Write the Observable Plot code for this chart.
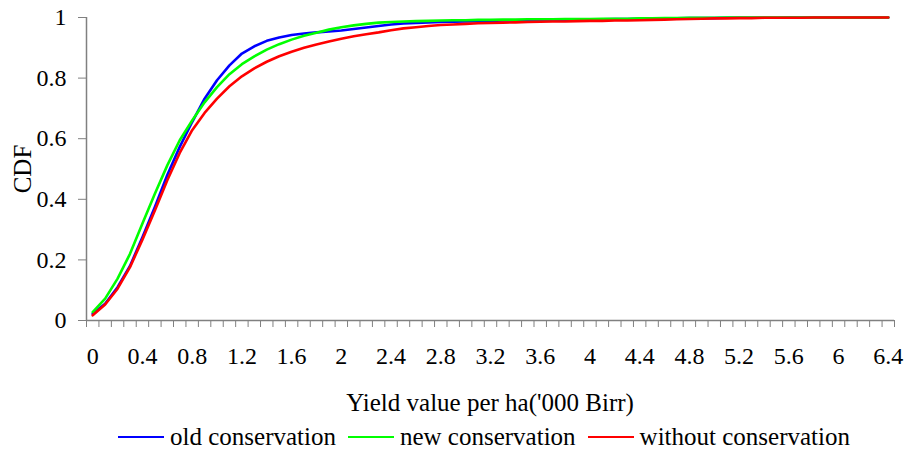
<!DOCTYPE html>
<html>
<head>
<meta charset="utf-8">
<script src="https://cdn.jsdelivr.net/npm/d3@7"></script>
<script src="https://cdn.jsdelivr.net/npm/@observablehq/plot@0.6"></script>
<style>
  body { margin: 0; background: #fff; }
  #wrap, #wrap * { font-family: "Liberation Serif", "Times New Roman", serif !important; }
  #wrap { width: 909px; color: #000; }
  #chart svg text { font-family: "Liberation Serif", "Times New Roman", serif !important; font-variant: normal !important; }
  #xtitle { margin-top: 13px; height: 30px; line-height: 30px; font-size: 25px; text-align: center; padding-left: 86px; width: 808px; }
  #legend { margin-top: 4px; height: 30px; line-height: 30px; font-size: 25px; display: flex; justify-content: center; padding-left: 80px; width: 808px; }
  .item { display: flex; align-items: center; margin-right: 12px; white-space: nowrap; }
  .item:last-child { margin-right: 0; }
  .sw { display: inline-block; width: 46px; height: 0; border-top: 2.5px solid; margin-right: 6px; }
</style>
</head>
<body>
<div id="wrap">
  <div id="chart"></div>
  <div id="xtitle"></div>
  <div id="legend"></div>
</div>
<script>
const categories = [0,0.1,0.2,0.3,0.4,0.5,0.6,0.7,0.8,0.9,1.0,1.1,1.2,1.3,1.4,1.5,1.6,1.7,1.8,1.9,2.0,2.1,2.2,2.3,2.4,2.5,2.6,2.7,2.8,2.9,3.0,3.1,3.2,3.3,3.4,3.5,3.6,3.7,3.8,3.9,4.0,4.1,4.2,4.3,4.4,4.5,4.6,4.7,4.8,4.9,5.0,5.1,5.2,5.3,5.4,5.5,5.6,5.7,5.8,5.9,6.0,6.1,6.2,6.3,6.4];
const xTickLabels = [0,0.4,0.8,1.2,1.6,2,2.4,2.8,3.2,3.6,4,4.4,4.8,5.2,5.6,6,6.4];
const yTickLabels = [0,0.2,0.4,0.6,0.8,1];

const oldConservation = [0.022,0.055,0.11,0.18,0.275,0.375,0.48,0.573,0.655,0.732,0.793,0.842,0.881,0.905,0.923,0.934,0.942,0.947,0.951,0.954,0.957,0.962,0.967,0.972,0.977,0.980,0.982,0.984,0.985,0.986,0.987,0.988,0.989,0.990,0.990,0.991,0.992,0.992,0.993,0.993,0.994,0.994,0.995,0.995,0.996,0.996,0.997,0.997,0.998,0.998,0.998,0.999,0.999,0.999,0.999,0.999,1,1,1,1,1,1,1,1,1];
const newConservation = [0.028,0.072,0.138,0.22,0.32,0.418,0.512,0.595,0.66,0.72,0.77,0.813,0.846,0.872,0.894,0.912,0.927,0.94,0.95,0.96,0.968,0.974,0.979,0.983,0.985,0.987,0.988,0.989,0.990,0.991,0.991,0.992,0.992,0.993,0.993,0.994,0.994,0.994,0.995,0.995,0.995,0.996,0.996,0.996,0.997,0.997,0.998,0.998,0.999,0.999,0.999,1,1,1,1,1,1,1,1,1,1,1,1,1,1];
const withoutConservation = [0.017,0.053,0.105,0.176,0.267,0.363,0.463,0.553,0.628,0.685,0.732,0.773,0.806,0.832,0.854,0.872,0.887,0.9,0.911,0.921,0.93,0.938,0.945,0.951,0.958,0.964,0.968,0.972,0.975,0.977,0.979,0.981,0.982,0.983,0.984,0.985,0.986,0.987,0.987,0.988,0.989,0.989,0.990,0.990,0.991,0.992,0.993,0.994,0.995,0.996,0.997,0.997,0.998,0.998,0.999,0.999,0.999,0.999,1,1,1,1,1,1,1];

const seriesNames = ["old conservation", "new conservation", "without conservation"];
const seriesColors = ["#0000ff", "#00ff00", "#ff0000"];
const seriesValues = [oldConservation, newConservation, withoutConservation];

const rows = [];
seriesNames.forEach((name, s) => {
  categories.forEach((c, i) => rows.push({series: name, x: c, y: seriesValues[s][i]}));
});

const half = 0.05;
const boundaries = categories.map(c => c - half).concat([categories[categories.length - 1] + half]);
const axisColor = "#808080";

const chart = Plot.plot({
  width: 909,
  height: 375,
  marginLeft: 86,
  marginRight: 15,
  marginTop: 17,
  marginBottom: 55,
  style: { fontFamily: "Liberation Serif, Times New Roman, serif", fontSize: "24px", background: "#fff", color: "#000" },
  x: { domain: [categories[0] - half, categories[categories.length - 1] + half] },
  y: { domain: [0, 1] },
  color: { domain: seriesNames, range: seriesColors },
  marks: [
    Plot.axisY({ ticks: yTickLabels, tickSize: 8, tickPadding: 12, tickFormat: d => String(d), label: null, stroke: axisColor, fill: "#000", fontSize: 24 }),
    Plot.axisX({ ticks: boundaries, tickSize: 7, tickFormat: () => "", label: null, stroke: axisColor }),
    Plot.axisX({ ticks: xTickLabels, tickSize: 0, tickPadding: 26, tickFormat: d => String(d), label: null, fill: "#000", fontSize: 24 }),
    Plot.ruleX([categories[0] - half], { stroke: axisColor, strokeWidth: 1.5 }),
    Plot.ruleY([0], { stroke: axisColor, strokeWidth: 1.5 }),
    Plot.line(rows, { x: "x", y: "y", z: "series", stroke: "series", strokeWidth: 2.6 }),
    Plot.text(["CDF"], { frameAnchor: "left", dx: -64, rotate: -90, text: d => d, fontSize: 25, fill: "#000", textAnchor: "middle", lineAnchor: "middle" })
  ]
});
document.getElementById("chart").appendChild(chart);

document.getElementById("xtitle").textContent = "Yield value per ha('000 Birr)";
const legend = document.getElementById("legend");
seriesNames.forEach((name, i) => {
  const item = document.createElement("div");
  item.className = "item";
  const sw = document.createElement("span");
  sw.className = "sw";
  sw.style.borderTopColor = seriesColors[i];
  const label = document.createElement("span");
  label.textContent = name;
  item.appendChild(sw);
  item.appendChild(label);
  legend.appendChild(item);
});
</script>
</body>
</html>
